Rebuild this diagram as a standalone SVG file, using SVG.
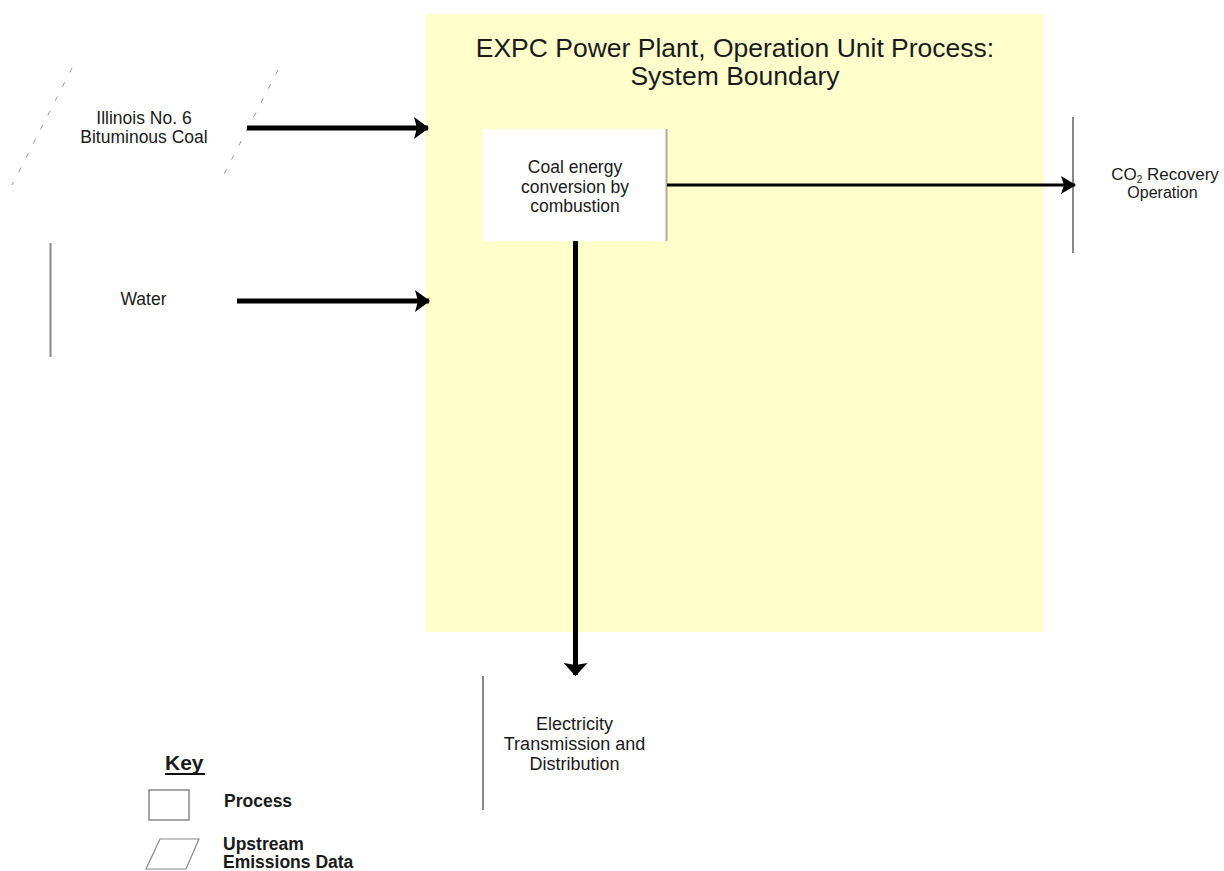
<svg xmlns="http://www.w3.org/2000/svg" width="1224" height="871" viewBox="0 0 1224 871">
<defs>
<style>
text{font-family:"Liberation Sans",Arial,sans-serif;fill:#1a1a1a;}
.s{font-size:17.5px;text-anchor:middle;}
.t{font-size:26.5px;text-anchor:middle;}
.k{font-size:17.5px;font-weight:bold;}
.edge{stroke:#888;stroke-width:2;fill:none;}
.dash{stroke:#999;stroke-width:1;stroke-dasharray:5 11;fill:none;}
.conn{stroke:#000;fill:none;}
</style>
<marker id="ahBig" viewBox="0 0 15 22" refX="14" refY="11" markerWidth="15" markerHeight="22" orient="auto" markerUnits="userSpaceOnUse">
<path d="M0,0 L15,11 L0,22 L3,11 Z" fill="#000"/>
</marker>
<marker id="ahMid" viewBox="0 0 15 18" refX="14" refY="9" markerWidth="15" markerHeight="18" orient="auto" markerUnits="userSpaceOnUse">
<path d="M0,0 L15,9 L0,18 L3,9 Z" fill="#000"/>
</marker>
<marker id="ahDown" viewBox="0 0 13 24" refX="12" refY="12" markerWidth="13" markerHeight="24" orient="auto" markerUnits="userSpaceOnUse">
<path d="M0,0 L13,12 L0,24 L2,12 Z" fill="#000"/>
</marker>
</defs>
<rect width="1224" height="871" fill="#fff"/>
<g id="boundary">
<rect x="426" y="14" width="618" height="618" fill="#ffffcc"/>
<text class="t" x="735" y="57">EXPC Power Plant, Operation Unit Process:</text>
<text class="t" x="735" y="85">System Boundary</text>
</g>
<g id="process">
<rect x="483" y="129" width="184" height="112" fill="#fff"/>
<line x1="666.5" y1="129" x2="666.5" y2="241" stroke="#aaa" stroke-width="2"/>
<text class="s" x="575" y="173">Coal energy</text>
<text class="s" x="575" y="193">conversion by</text>
<text class="s" x="575" y="212">combustion</text>
</g>
<g id="coal">
<line class="dash" x1="72" y1="68" x2="12" y2="185"/>
<line class="dash" x1="278" y1="70" x2="220" y2="182"/>
<text class="s" x="144" y="124">Illinois No. 6</text>
<text class="s" x="144" y="143">Bituminous Coal</text>
</g>
<g id="water">
<line class="edge" x1="50.5" y1="243" x2="50.5" y2="357"/>
<text class="s" x="143.5" y="305">Water</text>
</g>
<g id="co2">
<line class="edge" x1="1073" y1="117" x2="1073" y2="253"/>
<text x="1165" y="180" font-size="17" text-anchor="middle">CO<tspan font-size="10" dy="3">2</tspan><tspan dy="-3"> Recovery</tspan></text>
<text x="1162.5" y="198" font-size="16" text-anchor="middle">Operation</text>
</g>
<g id="electricity">
<line class="edge" x1="483" y1="676" x2="483" y2="810"/>
<text x="574.5" y="730" font-size="18" text-anchor="middle">Electricity</text>
<text x="574.5" y="750" font-size="18" text-anchor="middle">Transmission and</text>
<text x="574.5" y="770" font-size="18" text-anchor="middle">Distribution</text>
</g>
<g id="connectors">
<line class="conn" stroke-width="5" x1="247" y1="128" x2="428" y2="128" marker-end="url(#ahBig)"/>
<line class="conn" stroke-width="5" x1="237" y1="301" x2="429" y2="301" marker-end="url(#ahBig)"/>
<line class="conn" stroke-width="3" x1="667" y1="185" x2="1075" y2="185" marker-end="url(#ahMid)"/>
<line class="conn" stroke-width="5" x1="575.5" y1="241" x2="575.5" y2="675" marker-end="url(#ahDown)"/>
</g>
<g id="key">
<text x="165" y="770" font-size="21" font-weight="bold">Key</text>
<line x1="165" y1="774" x2="205" y2="774" stroke="#111" stroke-width="1.8"/>
<rect x="149" y="790" width="40" height="30" fill="#fff" stroke="#888" stroke-width="1.5"/>
<text class="k" x="224" y="807">Process</text>
<polygon points="160,839 199,839 186,869 146,869" fill="#fff" stroke="#888" stroke-width="1.2"/>
<text class="k" x="223" y="850">Upstream</text>
<text class="k" x="223" y="868">Emissions Data</text>
</g>
</svg>
